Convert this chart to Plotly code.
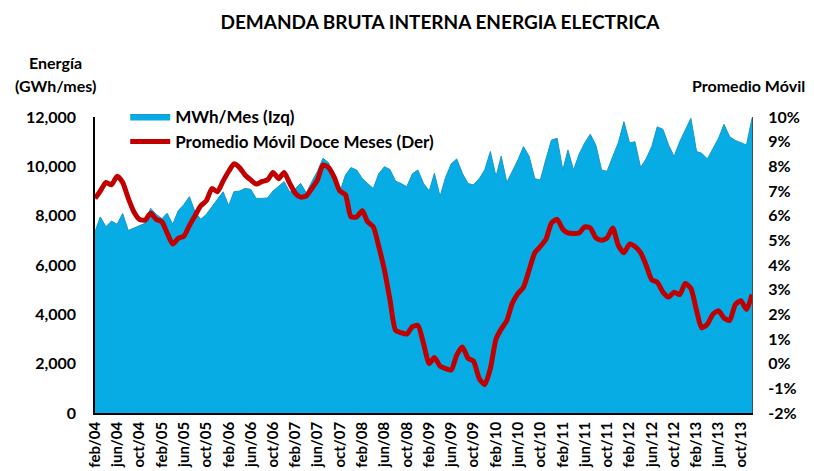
import pandas as pd
import plotly.graph_objects as go

# Monthly gross internal demand (left axis) feb/04 .. dec/13
demanda = [
    7350, 7950, 7550, 7780, 7650, 8090, 7400, 7500, 7600, 7690, 8300,
    8050, 7880, 8100, 7650, 8200, 8450, 8770, 8150, 7850, 8050, 8370, 8700,
    8970, 8400, 8970, 9000, 9100, 9070, 8700, 8700, 8720, 9000, 9200, 9380,
    8950, 9100, 9310, 8920, 9380, 9800, 10325, 10150, 9300, 8950, 9650, 9950,
    9850, 9510, 9300, 9100, 9700, 9985, 9870, 9400, 9300, 9175, 9700, 9850,
    9300, 9000, 9715, 8780, 9550, 10100, 10300, 9715, 9300, 9250, 9500, 9850,
    10600, 9580, 10410, 9350, 9800, 10270, 10800, 10400, 9500, 9445, 10300, 11065,
    11135, 9850, 10660, 9850, 10500, 10950, 11300, 10850, 9850, 9800, 10400, 10950,
    11810, 10950, 11000, 9950, 10300, 10800, 11600, 11500, 10865, 10400, 11000, 11500,
    11945, 10600, 10530, 10300, 10700, 11135, 11700, 11200, 11050, 10950, 10865, 11950,
]

# Twelve-month moving average growth, % (right axis)
promedio = [
    6.7, 7.0, 7.35, 7.25, 7.6, 7.35, 6.7, 6.15, 5.85, 5.82, 6.1,
    5.85, 5.75, 5.3, 4.85, 5.08, 5.17, 5.6, 6.0, 6.4, 6.6, 7.1, 6.97,
    7.4, 7.8, 8.1, 7.95, 7.65, 7.45, 7.28, 7.38, 7.45, 7.75, 7.5, 7.75,
    7.3, 6.9, 6.75, 6.8, 7.1, 7.45, 8.05, 7.95, 7.55, 7.0, 6.85, 5.95,
    5.95, 6.2, 5.75, 5.55, 4.75, 3.8, 2.6, 1.35, 1.25, 1.2, 1.5, 1.55,
    0.8, 0.0, 0.25, -0.1, -0.2, -0.26, 0.35, 0.68, 0.22, 0.1, -0.6, -0.85,
    -0.2, 1.0, 1.4, 1.75, 2.45, 2.85, 3.1, 3.8, 4.5, 4.75, 5.05, 5.7,
    5.85, 5.45, 5.3, 5.28, 5.3, 5.55, 5.5, 5.1, 5.0, 5.1, 5.5, 4.8,
    4.5, 4.85, 4.75, 4.5, 4.0, 3.4, 3.3, 2.9, 2.7, 2.9, 2.8, 3.25,
    3.05, 2.15, 1.45, 1.6, 2.0, 2.15, 1.85, 1.75, 2.4, 2.55, 2.2, 2.8,
]

meses = pd.date_range("2004-02-01", periods=len(demanda), freq="MS")
abrev = {1: "ene", 2: "feb", 3: "mar", 4: "abr", 5: "may", 6: "jun",
         7: "jul", 8: "ago", 9: "sep", 10: "oct", 11: "nov", 12: "dic"}
tick_vals = list(meses[::4])
tick_text = [f"{abrev[m.month]}/{m.year % 100:02d}" for m in tick_vals]

left_ticks = [0, 2000, 4000, 6000, 8000, 10000, 12000]
right_ticks = list(range(-2, 11))

FONT = "Lato"

fig = go.Figure()
fig.add_trace(go.Scatter(
    x=meses, y=demanda, name="<b>MWh/Mes (Izq)</b>", mode="lines",
    fill="tozeroy", fillcolor="#08ACE4",
    line=dict(color="#1597CC", width=1), legend="legend",
))
fig.add_trace(go.Scatter(
    x=meses, y=promedio, name="<b>Promedio Móvil Doce Meses (Der)</b>", mode="lines",
    yaxis="y2", line=dict(color="#C00000", width=5, shape="spline", smoothing=0.6),
    legend="legend2",
))

legend_common = dict(xanchor="left", yanchor="middle", bgcolor="rgba(0,0,0,0)",
                     font=dict(size=17, family=FONT), itemwidth=40)

fig.update_layout(
    width=806, height=463,
    margin=dict(l=87, r=62, t=109, b=58),
    paper_bgcolor="white", plot_bgcolor="white",
    font=dict(family=FONT, size=16, color="black"),
    showlegend=True,
    legend=dict(x=0.046, y=(413 - 117) / 296, **legend_common),
    legend2=dict(x=0.046, y=(413 - 142) / 296, **legend_common),
    title=dict(text="<b>DEMANDA BRUTA INTERNA ENERGIA ELECTRICA</b>",
               xref="container", yref="container", x=432 / 806, y=1 - 14 / 463,
               xanchor="center", yanchor="middle",
               font=dict(size=19, family=FONT)),
    xaxis=dict(
        range=[meses[0], meses[-1]], tickmode="array", tickvals=tick_vals,
        ticktext=[f"<b>{t}</b>" for t in tick_text], tickangle=-90,
        tickfont=dict(size=15), showgrid=False, showline=True,
        linecolor="black", linewidth=1.5, ticks="", zeroline=False,
        automargin=False, ticklabelstandoff=1,
    ),
    yaxis=dict(
        range=[0, 12000], tickmode="array", tickvals=left_ticks,
        ticktext=[f"<b>{v:,}</b>" for v in left_ticks], tickfont=dict(size=16),
        showgrid=False, showline=True, linecolor="black", linewidth=1.5,
        zeroline=False, ticks="", ticklabelstandoff=14, automargin=False,
    ),
    yaxis2=dict(
        range=[-2, 10], overlaying="y", side="right", tickmode="array",
        tickvals=right_ticks, ticktext=[f"<b>{v}%</b>" for v in right_ticks],
        tickfont=dict(size=16),
        showgrid=False, showline=True, linecolor="#4a4a4a", linewidth=1,
        zeroline=False, ticks="", ticklabelstandoff=12, automargin=False,
    ),
    annotations=[
        dict(text="<b>Energía</b>", xref="paper", yref="paper",
             x=(55 - 95) / 657, y=(413 - 63) / 296, showarrow=False,
             xanchor="center", yanchor="middle", font=dict(size=16)),
        dict(text="<b>(GWh/mes)</b>", xref="paper", yref="paper",
             x=(55 - 95) / 657, y=(413 - 86) / 296, showarrow=False,
             xanchor="center", yanchor="middle", font=dict(size=16)),
        dict(text="<b>Promedio Móvil</b>", xref="paper", yref="paper",
             x=(748 - 95) / 657, y=(413 - 85) / 296, showarrow=False,
             xanchor="center", yanchor="middle", font=dict(size=16)),
    ],
)

fig.write_html("out.html")
